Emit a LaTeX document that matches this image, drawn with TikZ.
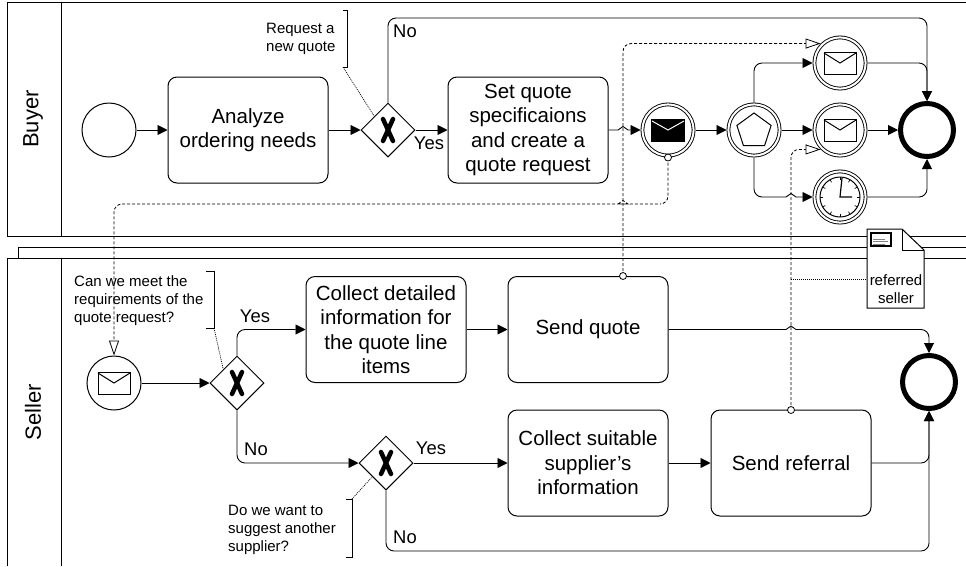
\documentclass[tikz,border=0pt]{standalone}
\usepackage{fontspec}
\setmainfont{Liberation Sans}
\usetikzlibrary{arrows.meta}
\usetikzlibrary{shapes.geometric}
\usetikzlibrary{calc}

% small bump where a flow crosses another one
\newcommand{\hop}[1]{[sharp corners] -- ($(#1)+(-5,0)$) .. controls ($(#1)+(-3,0)$) and ($(#1)+(-2,-3.5)$) .. ($(#1)+(0,-3.5)$) .. controls ($(#1)+(2,-3.5)$) and ($(#1)+(3,0)$) .. ($(#1)+(5,0)$) [rounded corners=8pt]}

\begin{document}
\begin{tikzpicture}[
			x=1pt,y=-1pt,
			every node/.style={inner sep=0pt,text=black},
			pool/.style={draw,line width=1pt},
			task/.style={draw,fill=white,line width=1pt,rectangle,rounded corners=9pt,minimum width=160pt,minimum height=106pt,align=center,font=\fontsize{20.5}{24.5}\selectfont},
			gateway/.style={draw,fill=white,line width=1pt,diamond,minimum width=54pt,minimum height=54pt},
			evnone/.style={draw,fill=white,line width=1pt,circle,minimum size=54pt},
			evmid/.style={draw,fill=white,line width=.9pt,circle,double,double distance=2pt,outer sep=1.9pt,minimum size=51.2pt},
			evend/.style={draw,fill=white,line width=5pt,circle,minimum size=53pt,outer sep=2.5pt},
			seqflow/.style={line width=.9pt,rounded corners=8pt,-{Triangle[length=10pt,width=10pt]}},
			msgflow/.style={line width=.8pt,dash pattern=on 3pt off 2pt,rounded corners=8pt,-{Triangle[open,fill=white,length=15pt,width=10pt]}},
			assoc/.style={line width=.7pt,dash pattern=on 1pt off 1pt},
			bracket/.style={line width=1pt},
			flowstart/.style={draw,fill=white,line width=.8pt,circle,minimum size=7pt},
			flowlabel/.style={font=\fontsize{18.4}{22}\selectfont},
			note/.style={anchor=west,align=left,font=\fontsize{15}{18}\selectfont},
			poolname/.style={rotate=90,font=\fontsize{22}{26}\selectfont},
			envelope/.pic={
				\draw[line width=1pt] (-16,-11) rectangle (16,11);
				\draw[line width=1pt] (-16,-10) -- (0,0) -- (16,-10);
			},
			envelopeblack/.pic={
				\fill[black] (-17,-11.5) rectangle (17,11.5);
				\draw[white,line width=1pt] (-16,-9) -- (0,0) -- (16,-9);
			},
			xmark/.pic={
				\draw[line width=4.5pt,line cap=round] (-5,-11) -- (5,11);
				\draw[line width=4.5pt,line cap=round] (5,-11) -- (-5,11);
			},
			clockface/.pic={
				\draw[line width=1pt] (0,0) circle (20);
				\foreach \a in {0,30,...,330}
					\draw[line width=.7pt] (\a:17) -- (\a:20);
				\draw[line width=1.2pt] (2,-19) -- (0,0) -- (12,0);
			}]
			\useasboundingbox (0,0) rectangle (966,566);

			% pools
			\draw[pool] (966,2) -- (7,2) -- (7,236) -- (966,236);
			\draw[pool] (61,2) -- (61,236);
			\draw[pool] (18,258) -- (18,247) -- (966,247);
			\draw[pool] (966,258) -- (7,258) -- (7,566);
			\draw[pool] (61,258) -- (61,566);
			\node (buyer) [poolname] at (33,119) {Buyer};
			\node (seller) [poolname] at (33,412) {Seller};

			% buyer
			\node (start) [evnone] at (109,130) {};
			\node (analyze) [task] at (248,130) {Analyze\\ordering needs};
			\node (gwa) [gateway] at (388,130) {};
			\pic at (gwa) {xmark};
			\node (setq) [task] at (528,130) {Set quote\\specificaions\\and create a\\quote request};
			\node (thr) [evmid] at (668,130) {};
			\pic at (thr) {envelopeblack};
			\node (pent) [evmid] at (754,130) {};
			\node (penti) [draw,line width=1pt,regular polygon,regular polygon sides=5,minimum size=36pt] at (754,131) {};
			\node (msgt) [evmid] at (840,63) {};
			\pic at (msgt) {envelope};
			\node (msgm) [evmid] at (840,130) {};
			\pic at (msgm) {envelope};
			\node (timer) [evmid] at (840,197) {};
			\pic at (timer) {clockface};
			\node (endt) [evend] at (927,130) {};

			% seller
			\node (msgr) [evnone] at (114,383) {};
			\pic at (msgr) {envelope};
			\node (gwb) [gateway] at (237,383) {};
			\pic at (gwb) {xmark};
			\node (colld) [task] at (386,329.5) {Collect detailed\\information for\\the quote line\\items};
			\node (sendq) [task] at (588,329.5) {Send quote};
			\node (gwc) [gateway] at (386,463) {};
			\pic at (gwc) {xmark};
			\node (colls) [task] at (588,463) {Collect suitable\\supplier's\\information};
			\node (sendr) [task] at (791,463) {Send referral};
			\node (endb) [evend] at (929,382) {};

			% crossings and free ends
			\coordinate (hopa) at (623,130);
			\coordinate (hopb) at (623,204);
			\coordinate (hopc) at (791,197);
			\coordinate (hopd) at (791,329.5);
			\coordinate (noya) at (700,18);
			\coordinate (noyb) at (700,551);
			\coordinate (turnc) at (770,197);
			\coordinate (outq) at (623,276);
			\coordinate (outr) at (791,410);
			\coordinate (assocy) at (791,279);

			% sequence flows
			\draw[seqflow] (start) -- (analyze);
			\draw[seqflow] (analyze) -- (gwa);
			\draw[seqflow] (gwa) -- (setq);
			\draw[seqflow] (gwa.north) |- (noya) -| (endt.north);
			\draw[seqflow] (setq.east) \hop{hopa} -- (thr.west);
			\draw[seqflow] (thr) -- (pent);
			\draw[seqflow] (pent.north) |- (msgt.west);
			\draw[seqflow] (pent) -- (msgm);
			\draw[seqflow] (pent.south) |- (turnc) \hop{hopc} -- (timer.west);
			\draw[seqflow] (msgt.east) -| (endt.north);
			\draw[seqflow] (msgm) -- (endt);
			\draw[seqflow] (timer.east) -| (endt.south);
			\draw[seqflow] (msgr) -- (gwb);
			\draw[seqflow] (gwb.north) |- (colld.west);
			\draw[seqflow] (gwb.south) |- (gwc.west);
			\draw[seqflow] (colld) -- (sendq);
			\draw[seqflow] (sendq.east) \hop{hopd} -| (endb.north);
			\draw[seqflow] (gwc) -- (colls);
			\draw[seqflow] (gwc.south) |- (noyb) -| (endb.south);
			\draw[seqflow] (colls) -- (sendr);
			\draw[seqflow] (sendr.east) -| (endb.south);

			% message flows
			\draw[msgflow] (thr.south) |- ($(hopb)+(30,0)$) \hop{hopb} -| (msgr.north);
			\draw[msgflow] (outq) |- (msgt.135);
			\draw[msgflow] (outr) |- (msgm.225);
			\node (dota) [flowstart] at (thr.south) {};
			\node (dotb) [flowstart] at (outq) {};
			\node (dotc) [flowstart] at (outr) {};

			% document
			\node (refdoc) [minimum width=57pt,minimum height=79pt] at (895.5,268.5) {};
			\draw[line width=1pt,fill=white] (867,229) -- (902,229) -- (924,250) -- (924,308) -- (867,308) -- cycle;
			\draw[line width=1pt] (902,229) -- (902,250) -- (924,250);
			\draw[line width=1.2pt] (871,233) rectangle (891,246);
			\draw[gray,line width=1pt] (873,239) -- (885,239) (873,241.5) -- (888,241.5) (873,244) -- (885,244);
			\node (refname) [font=\fontsize{15}{18}\selectfont,align=center] at (896,289) {referred\\seller};
			\draw[assoc] (assocy) -- (refdoc.west |- assocy);

			% labels
			\node (noa) [flowlabel] at (405,31) {No};
			\node (yesa) [flowlabel] at (429,143) {Yes};
			\node (yesb) [flowlabel] at (255,316) {Yes};
			\node (nob) [flowlabel] at (256,449) {No};
			\node (yesc) [flowlabel] at (431,448) {Yes};
			\node (noc) [flowlabel] at (405,537) {No};

			% annotations
			\node (notea) [note] at (266,39) {Request a\\new quote};
			\draw[bracket] (343,10) -- (347,10) -- (347,67) -- (343,67);
			\coordinate (brka) at (343,67);
			\draw[assoc] (brka) -- (gwa.135);
			\node (noteb) [note] at (74,300.5) {Can we meet the\\requirements of the\\quote request?};
			\draw[bracket] (206,271) -- (214,271) -- (214,328) -- (206,328);
			\coordinate (brkb) at (214,328);
			\draw[assoc] (brkb) -- (gwb.135);
			\node (notec) [note] at (228,529.5) {Do we want to\\suggest another\\supplier?};
			\draw[bracket] (346,499) -- (352,499) -- (352,557) -- (346,557);
			\coordinate (brkc) at (352,499);
			\draw[assoc] (brkc) -- (gwc.225);
		\end{tikzpicture}
\end{document}
